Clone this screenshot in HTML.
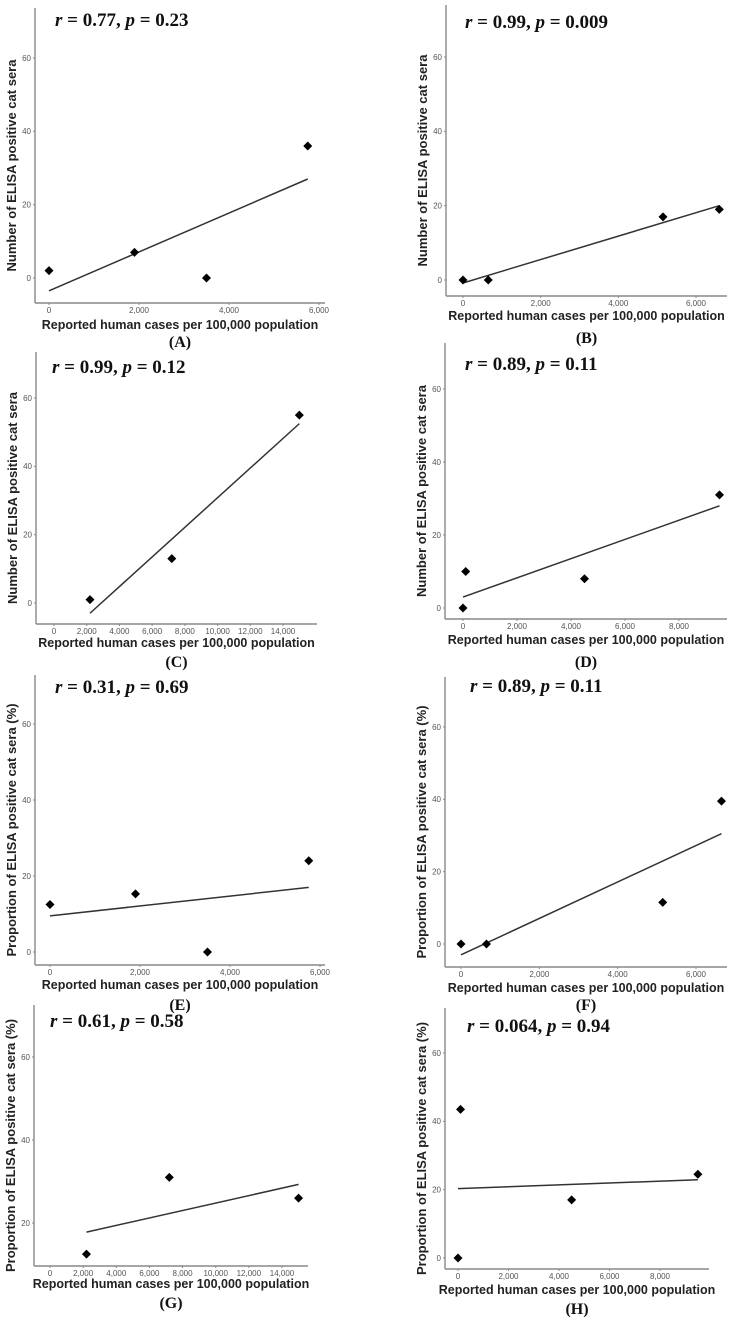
<!DOCTYPE html>
<html><head><meta charset="utf-8">
<style>
html,body{margin:0;padding:0;background:#fff;}
svg{display:block;}
.tick{font-family:"Liberation Sans",sans-serif;font-size:8px;fill:#555;}
.ttl{font-family:"Liberation Sans",sans-serif;font-size:12.5px;font-weight:bold;fill:#222;}
.ytl{font-family:"Liberation Sans",sans-serif;font-size:13px;font-weight:bold;fill:#222;}
.rp{font-family:"Liberation Serif",serif;font-size:19px;font-weight:bold;fill:#111;}
.lab{font-family:"Liberation Serif",serif;font-size:16px;font-weight:bold;fill:#111;}
</style></head>
<body>
<svg id="fig" width="737" height="1317" viewBox="0 0 737 1317" xmlns="http://www.w3.org/2000/svg"></svg>
<script>
// ---- data ----
const panelIds = ["A","B","C","D","E","F","G","H"];
const statText = ["r = 0.77, p = 0.23","r = 0.99, p = 0.009","r = 0.99, p = 0.12","r = 0.89, p = 0.11","r = 0.31, p = 0.69","r = 0.89, p = 0.11","r = 0.61, p = 0.58","r = 0.064, p = 0.94"];
const yTitles = ["Number of ELISA positive cat sera","Number of ELISA positive cat sera","Number of ELISA positive cat sera","Number of ELISA positive cat sera","Proportion of ELISA positive cat sera (%)","Proportion of ELISA positive cat sera (%)","Proportion of ELISA positive cat sera (%)","Proportion of ELISA positive cat sera (%)"];
const xTitle = "Reported human cases per 100,000 population";
const casesA = [0,1900,3500,5750];      const seraA = [2,7,0,36];
const casesB = [0,650,5150,6600];       const seraB = [0,0,17,19];
const casesC = [2200,7200,15000];       const seraC = [1,13,55];
const casesD = [0,100,4500,9500];       const seraD = [0,10,8,31];
const casesE = [0,1900,3500,5750];      const propE = [12.5,15.3,0,24];
const casesF = [0,650,5150,6650];       const propF = [0,0,11.5,39.5];
const casesG = [2200,7200,15000];       const propG = [12.5,31,26];
const casesH = [0,100,4500,9500];       const propH = [0,43.5,17,24.5];
const fitXA=[0,5750],  fitYA=[-3.5,27];
const fitXB=[0,6600],  fitYB=[-0.8,20];
const fitXC=[2200,15000], fitYC=[-3,52.5];
const fitXD=[0,9500],  fitYD=[3,28];
const fitXE=[0,5750],  fitYE=[9.5,17];
const fitXF=[0,6650],  fitYF=[-3,30.5];
const fitXG=[2200,15000], fitYG=[17.8,29.3];
const fitXH=[0,9500],  fitYH=[20.3,22.9];
const xTicksSmall=[0,2000,4000,6000];
const xTicksMid=[0,2000,4000,6000,8000];
const xTicksBig=[0,2000,4000,6000,8000,10000,12000,14000];
const yTicks=[0,20,40,60];

// ---- layout (pixel geometry) ----
const L = {
 A:{xs:[0,49,6000,319],ys:[0,278,60,58],box:[35,8,325,303],r:[55,26],tl:[325,342],xl:303},
 B:{xs:[0,463,6000,696],ys:[0,280,60,57],box:[446,5,727,296],r:[465,28],tl:[316,338],xl:302},
 C:{xs:[0,54,14000,283],ys:[0,603,60,398],box:[36,352,317,624],r:[52,373],tl:[643,662],xl:632},
 D:{xs:[0,463,8000,679],ys:[0,608,60,389],box:[445,343,727,619],r:[465,370],tl:[640,662],xl:628},
 E:{xs:[0,50,6000,320],ys:[0,952,60,724],box:[35,675,325,965],r:[55,693],tl:[985,1005],xl:973},
 F:{xs:[0,461,6000,696],ys:[0,944,60,727],box:[445,677,727,967],r:[470,692],tl:[988,1005],xl:975},
 G:{xs:[0,50,14000,282],ys:[0,1306,60,1057],box:[34,1005,308,1266],r:[50,1027],tl:[1284,1303],xl:1274},
 H:{xs:[0,458,8000,660],ys:[0,1258,60,1053],box:[445,1008,709,1269],r:[467,1032],tl:[1290,1309],xl:1277}
};
const pts = {A:[casesA,seraA],B:[casesB,seraB],C:[casesC,seraC],D:[casesD,seraD],E:[casesE,propE],F:[casesF,propF],G:[casesG,propG],H:[casesH,propH]};
const fits = {A:[fitXA,fitYA],B:[fitXB,fitYB],C:[fitXC,fitYC],D:[fitXD,fitYD],E:[fitXE,fitYE],F:[fitXF,fitYF],G:[fitXG,fitYG],H:[fitXH,fitYH]};
const xt = {A:xTicksSmall,B:xTicksSmall,C:xTicksBig,D:xTicksMid,E:xTicksSmall,F:xTicksSmall,G:xTicksBig,H:xTicksMid};

const NS="http://www.w3.org/2000/svg";
const svg=document.getElementById('fig');
function mk(tag,parent,attrs){const e=document.createElementNS(NS,tag);for(const k in attrs)e.setAttribute(k,attrs[k]);parent.appendChild(e);return e;}

panelIds.forEach((id,i)=>{
  const c=L[id];
  const sx=v=>c.xs[1]+(v-c.xs[0])*(c.xs[3]-c.xs[1])/(c.xs[2]-c.xs[0]);
  const sy=v=>c.ys[1]+(v-c.ys[0])*(c.ys[3]-c.ys[1])/(c.ys[2]-c.ys[0]);
  const g=mk('g',svg,{});
  
  
  const [bl,bt,br,bb]=c.box;
  const ya=mk('line',g,{x1:bl,y1:bt,x2:bl,y2:bb,stroke:'#888','stroke-width':1.4});
  
  
  const xa=mk('line',g,{x1:bl,y1:bb,x2:br,y2:bb,stroke:'#888','stroke-width':1.4});
  
  
  yTicks.forEach(t=>{
    const y=sy(t);
    if(y<bt||y>bb)return;
    mk('line',g,{x1:bl-2,y1:y,x2:bl,y2:y,stroke:'#888','stroke-width':1});
    const tx=mk('text',g,{x:bl-4,y:y+2.8,'text-anchor':'end',class:'tick'});
    tx.textContent=t;
    
    
  });
  xt[id].forEach(t=>{
    const x=sx(t);
    mk('line',g,{x1:x,y1:bb,x2:x,y2:bb+2,stroke:'#888','stroke-width':1});
    const tx=mk('text',g,{x:x,y:bb+10,'text-anchor':'middle',class:'tick'});
    tx.textContent=t.toLocaleString('en-US');
    
    
  });
  const [fx,fy]=fits[id];
  const fl=mk('line',g,{x1:sx(fx[0]),y1:sy(fy[0]),x2:sx(fx[1]),y2:sy(fy[1]),stroke:'#333','stroke-width':1.5});
  
  
  const [px,py]=pts[id];
  px.forEach((v,k)=>{
    const x=sx(v),y=sy(py[k]);
    const p=mk('polygon',g,{points:`${x},${y-4.5} ${x+4.5},${y} ${x},${y+4.5} ${x-4.5},${y}`,fill:'#000'});
    
    
  });
  const rt=mk('text',g,{x:c.r[0],y:c.r[1],class:'rp'});
  const s=statText[i].split(', ');
  rt.innerHTML='<tspan font-style="italic">r</tspan>'+s[0].slice(1)+', <tspan font-style="italic">p</tspan>'+s[1].slice(1);
  
  
  const cx=(bl+br)/2;
  const xtl=mk('text',g,{x:cx,y:c.tl[0]+4,'text-anchor':'middle',class:'ttl'});
  xtl.textContent=xTitle;
  
  
  const cy=(bt+bb)/2+10;
  const ytl=mk('text',g,{x:0,y:0,'text-anchor':'middle',class:'ytl',transform:`translate(${bl-19},${cy}) rotate(-90)`});
  ytl.textContent=yTitles[i];
  
  
  const lb=mk('text',g,{x:cx,y:c.tl[1]+5,'text-anchor':'middle',class:'lab'});
  lb.textContent='('+id+')';
  
  
});
</script>
</body></html>
